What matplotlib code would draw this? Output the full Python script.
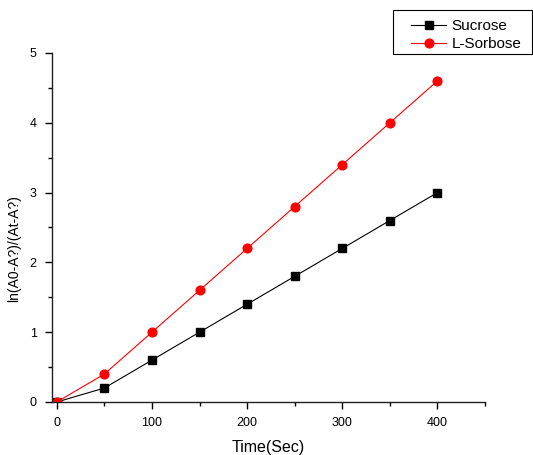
import numpy as np
import matplotlib
matplotlib.use('Agg')
import matplotlib.pyplot as plt
from matplotlib.patches import Rectangle
from matplotlib.ticker import MultipleLocator

plt.rcParams['font.family'] = ['Liberation Sans', 'DejaVu Sans']

time_s = [0, 50, 100, 150, 200, 250, 300, 350, 400]
sucrose = [0, 0.2, 0.6, 1.0, 1.4, 1.8, 2.2, 2.6, 3.0]
sorbose = [0, 0.4, 1.0, 1.6, 2.2, 2.8, 3.4, 4.0, 4.6]

W, H = 533, 455
fig = plt.figure(figsize=(W / 100, H / 100), dpi=100)
# axes box in pixels: x 52..485, y 53..402
ax = fig.add_axes([52 / W, 1 - 402 / H, (485 - 52) / W, (402 - 53) / H])

ax.plot(time_s, sucrose, 's-', color='black', markersize=5.3, linewidth=0.8, label='Sucrose')
ax.plot(time_s, sorbose, 'o-', color='red', markersize=6.3, linewidth=0.8, label='L-Sorbose')

ax.set_xlim(-5, 450)
ax.set_ylim(0, 5)
ax.xaxis.set_major_locator(MultipleLocator(100))
ax.xaxis.set_minor_locator(MultipleLocator(50))
ax.yaxis.set_major_locator(MultipleLocator(1))
ax.yaxis.set_minor_locator(MultipleLocator(0.5))

for s in ['top', 'right']:
    ax.spines[s].set_visible(False)
for s in ['left', 'bottom']:
    ax.spines[s].set_linewidth(1.0)
    ax.spines[s].set_color('#222222')

ax.tick_params(which='major', direction='out', length=5, width=1, labelsize=9, pad=6)
ax.tick_params(which='minor', direction='out', length=3, width=1)

ax.set_xlabel('Time(Sec)', fontsize=11.5, labelpad=8)
ax.set_ylabel('ln(A0-A?)/(At-A?)', fontsize=10)
ax.yaxis.set_label_coords(-0.072, 0.44)

# legend box drawn separately, legend entries placed inside it
fig.patches.append(Rectangle((393 / W, 1 - 54 / H), 139 / W, 44 / H,
                             transform=fig.transFigure, fill=False,
                             edgecolor='black', linewidth=0.8))
fig.legend(loc='upper left', bbox_to_anchor=(411 / W, 1 - 19 / H), fontsize=11,
           frameon=False, borderaxespad=0, borderpad=0,
           handlelength=2.3, handletextpad=0.35, labelspacing=0.27)

fig.savefig('out.png', dpi=100)
